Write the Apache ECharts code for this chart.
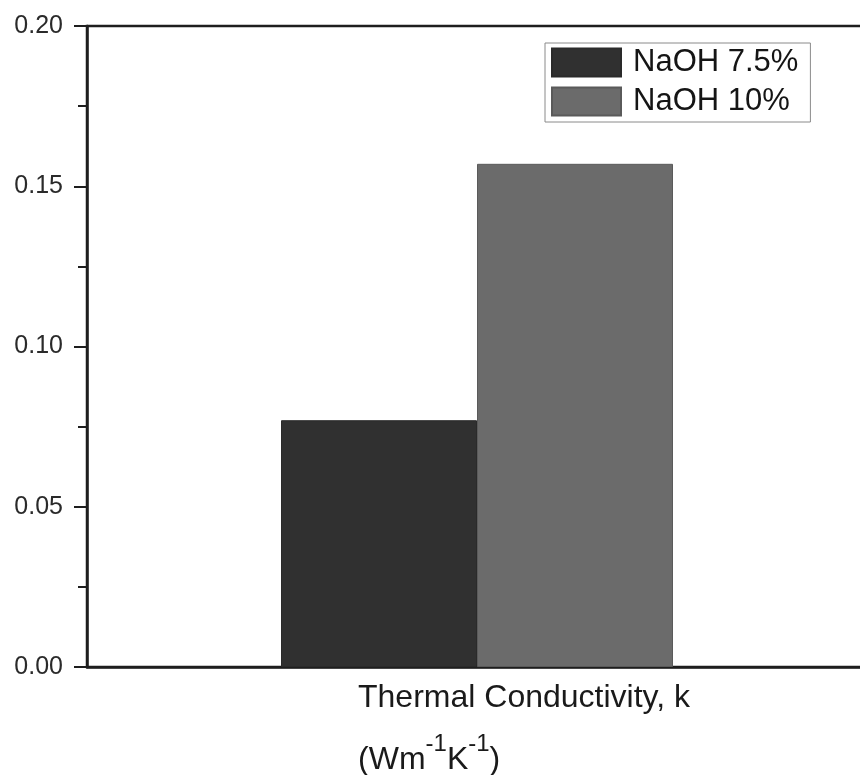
<!DOCTYPE html>
<html>
<head>
<meta charset="utf-8">
<script src="https://cdn.jsdelivr.net/npm/echarts@6/dist/echarts.min.js"></script>
<style>
  html, body { margin: 0; padding: 0; background: #fff; }
  #main { width: 860px; height: 775px; }
</style>
</head>
<body>
<div id="main"></div>
<script>
var categories = ['Thermal Conductivity, k'];
var unitLine = '{u|(Wm}{s|-1}{u|K}{s|-1}{u|)}';
var seriesNames = ['NaOH 7.5%', 'NaOH 10%'];
var naoh75 = [0.077];
var naoh10 = [0.157];
var yMin = 0, yMax = 0.2, yStep = 0.05;

var font = 'Liberation Sans, Arial, Helvetica, sans-serif';

var chart = echarts.init(document.getElementById('main'));
var option = {
    animation: false,
    backgroundColor: '#fff',
    textStyle: { fontFamily: font },
    grid: {
        left: 87, top: 26, right: -7, bottom: 108,
        outerBoundsMode: 'none',
        containLabel: false,
        show: true, borderColor: '#1e1e1e', borderWidth: 2.5, backgroundColor: 'transparent'
    },
    legend: {
        orient: 'vertical',
        left: 545, top: 43,
        padding: [4, 12, 5, 6],
        itemGap: 8,
        itemWidth: 69, itemHeight: 28,
        icon: 'rect',
        borderColor: '#8a8a8a', borderWidth: 1,
        backgroundColor: '#fff',
        textStyle: { fontFamily: font, fontSize: 31, color: '#151515', padding: [0, 0, 0, 7] },
        data: seriesNames
    },
    xAxis: {
        type: 'category',
        data: categories,
        axisTick: { show: false },
        axisLine: { lineStyle: { color: '#1e1e1e', width: 2.5 } },
        axisLabel: {
            margin: 15,
            padding: [0, 0, 0, 94],
            formatter: function (v) { return '{t|' + v + '}\n' + unitLine; },
            rich: {
                t: { fontFamily: font, fontSize: 32, color: '#1a1a1a', lineHeight: 50, verticalAlign: 'top', align: 'left' },
                u: { fontFamily: font, fontSize: 32, color: '#1a1a1a', lineHeight: 44, verticalAlign: 'bottom', align: 'left' },
                s: { fontFamily: font, fontSize: 24, color: '#1a1a1a', lineHeight: 22, verticalAlign: 'top', align: 'left' }
            }
        }
    },
    yAxis: {
        type: 'value',
        min: yMin, max: yMax, interval: yStep,
        splitLine: { show: false },
        axisLine: { show: true, lineStyle: { color: '#1e1e1e', width: 2.5 } },
        axisTick: { show: true, length: 13, lineStyle: { color: '#1e1e1e', width: 2 } },
        minorTick: { show: true, splitNumber: 2, length: 9, lineStyle: { color: '#1e1e1e', width: 2 } },
        axisLabel: {
            margin: 24,
            fontFamily: font, fontSize: 25, color: '#2a2a2a',
            formatter: function (v) { return v.toFixed(2); }
        }
    },
    series: [
        {
            name: seriesNames[0], type: 'bar', data: naoh75,
            barWidth: 196, barGap: '0%',
            itemStyle: { color: '#303030', borderColor: '#2a2a2a', borderWidth: 1 }
        },
        {
            name: seriesNames[1], type: 'bar', data: naoh10,
            barWidth: 196,
            itemStyle: { color: '#6b6b6b', borderColor: '#5a5a5a', borderWidth: 1 }
        }
    ]
};
chart.setOption(option);
window.addEventListener('resize', () => chart.resize());
</script>
</body>
</html>
